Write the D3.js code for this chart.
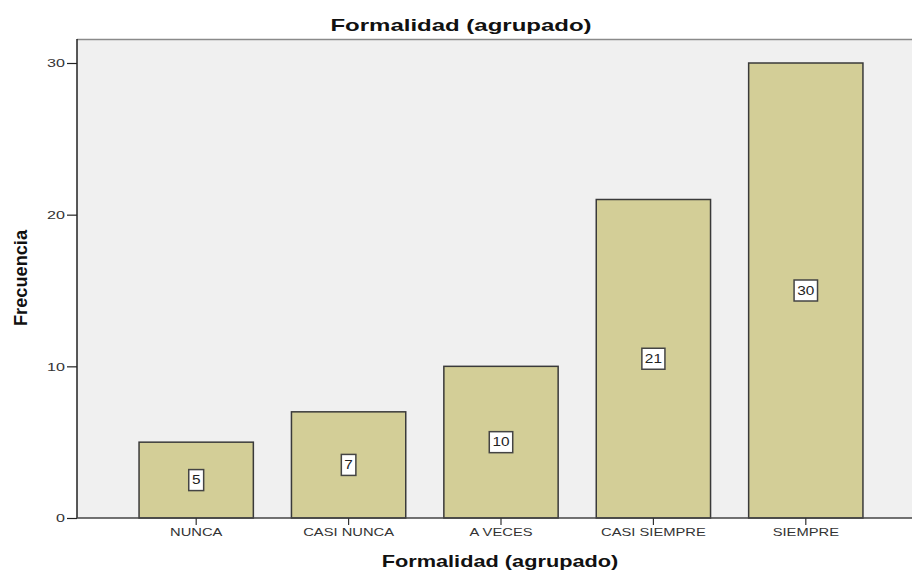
<!DOCTYPE html>
<html><head><meta charset="utf-8">
<script src="https://cdn.jsdelivr.net/npm/d3@7"></script>
<style>body{margin:0;background:#fff}svg{display:block}</style>
</head><body>
<svg id="c" width="912" height="570"></svg>
<script>
const categories = ["NUNCA","CASI NUNCA","A VECES","CASI SIEMPRE","SIEMPRE"];
const values = [5,7,10,21,30];
const yTicks = [0,10,20,30];
const title = "Formalidad (agrupado)";
const xTitle = "Formalidad (agrupado)";
const yTitle = "Frecuencia";

const svg = d3.select("#c");
const plot = {left:77, top:39, right:912, bottom:518};
const x = d3.scaleBand().domain(categories).range([120,882]).paddingInner(0.25).paddingOuter(0.125);
const y = d3.scaleLinear().domain([0,30]).range([518,63]);
const font = "Liberation Sans, Arial, sans-serif";

svg.append("rect").attr("x",plot.left).attr("y",plot.top)
  .attr("width",plot.right-plot.left).attr("height",plot.bottom-plot.top).attr("fill","#f0f0f0");
svg.append("line").attr("x1",plot.left).attr("x2",plot.right).attr("y1",plot.top+0.5).attr("y2",plot.top+0.5)
  .attr("stroke","#8a8a8a").attr("stroke-width",1.5);

svg.selectAll("rect.bar").data(values).join("rect").attr("class","bar")
  .attr("x",(d,i)=>x(categories[i])).attr("y",d=>y(d))
  .attr("width",x.bandwidth()).attr("height",d=>y(0)-y(d))
  .attr("fill","#d3ce97").attr("stroke","#3a3a3a").attr("stroke-width",1.5);

// y axis
const ya = svg.append("g").attr("transform",`translate(${plot.left},0)`)
  .call(d3.axisLeft(y).tickValues(yTicks).tickSize(10).tickPadding(2).tickFormat(d3.format("d")));
ya.select(".domain").attr("d",`M0,${plot.top}V${plot.bottom}`).attr("stroke","#222").attr("stroke-width",1.5);
ya.selectAll(".tick line").attr("stroke","#222").attr("stroke-width",1.2);
ya.selectAll(".tick text").attr("font-family",font).attr("font-size",11.5).attr("fill","#333")
  .attr("x",0).attr("transform","translate(-12,0) scale(1.4,1)");

// x axis
const xa = svg.append("g").attr("transform",`translate(0,${plot.bottom})`)
  .call(d3.axisBottom(x).tickSize(7).tickPadding(3));
xa.select(".domain").attr("d",`M${plot.left},0H${plot.right}`).attr("stroke","#444").attr("stroke-width",1.5);
xa.selectAll(".tick line").attr("stroke","#333").attr("stroke-width",1.2);
xa.selectAll(".tick text").attr("font-family",font).attr("font-size",11).attr("fill","#333")
  .attr("transform","scale(1.34,1)");

// value labels
const ls = 1.28;
const lg = svg.selectAll("g.lab").data(values).join("g").attr("class","lab")
  .attr("transform",(d,i)=>`translate(${x(categories[i])+x.bandwidth()/2},${y(d/2)})`);
lg.append("text").text(d=>d).attr("text-anchor","middle").attr("dy","0.36em")
  .attr("transform",`scale(${ls},1)`)
  .attr("font-family",font).attr("font-size",12).attr("fill","#222");
lg.each(function(){
  const g = d3.select(this), t = g.select("text"), b = t.node().getBBox();
  const w = b.width*ls + 6;
  g.insert("rect","text").attr("x",-w/2).attr("y",-10.5).attr("width",w).attr("height",21)
    .attr("fill","#fff").attr("stroke","#444").attr("stroke-width",1.5);
});

svg.append("text").attr("transform","translate(461,31) scale(1.5,1)").attr("text-anchor","middle")
  .attr("font-family",font).attr("font-weight","bold").attr("font-size",16).attr("fill","#111").text(title);
svg.append("text").attr("transform","translate(500,567) scale(1.36,1)").attr("text-anchor","middle")
  .attr("font-family",font).attr("font-weight","bold").attr("font-size",16).attr("fill","#111").text(xTitle);
svg.append("text").attr("transform","translate(27,278) rotate(-90) scale(1.3,1.35)").attr("text-anchor","middle")
  .attr("font-family",font).attr("font-weight","bold").attr("font-size",14).attr("fill","#111").text(yTitle);
</script>
</body></html>
